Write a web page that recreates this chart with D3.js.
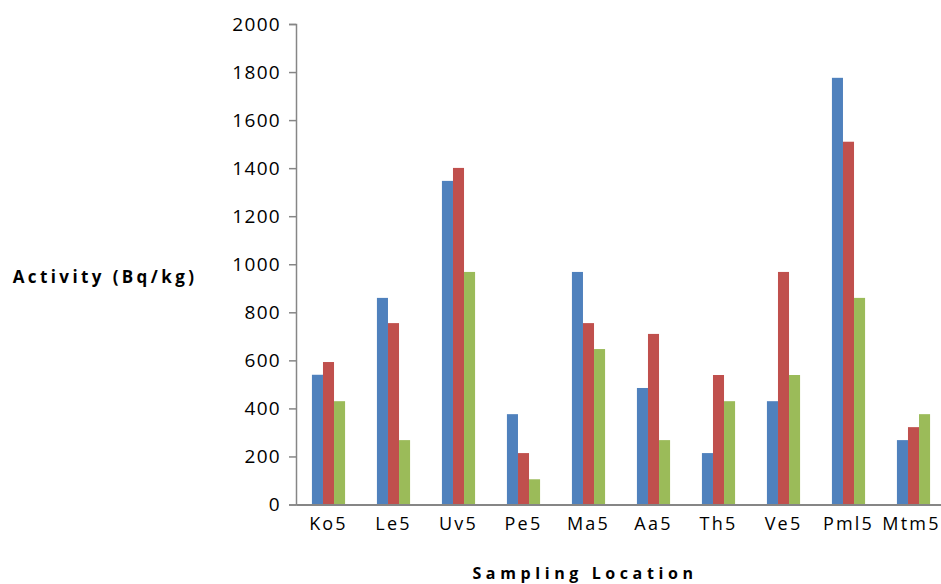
<!DOCTYPE html>
<html>
<head>
<meta charset="utf-8">
<script src="https://cdn.jsdelivr.net/npm/d3@7"></script>
<style>
  body { margin: 0; background: #fff; }
  text { font-family: "Open Sans", "Liberation Sans", sans-serif; fill: #000; }
</style>
</head>
<body>
<svg id="chart" width="941" height="584"></svg>
<script>
// Sampling locations and activity values (Bq/kg) for three series
const locations = ["Ko5", "Le5", "Uv5", "Pe5", "Ma5", "Aa5", "Th5", "Ve5", "Pml5", "Mtm5"];
const seriesA = [540, 860, 1347, 376, 968, 485, 214, 430, 1776, 268];
const seriesB = [593, 755, 1401, 214, 755, 710, 539, 968, 1510, 322];
const seriesC = [430, 268, 968, 105, 647, 268, 430, 539, 860, 376];
const seriesColors = ["#4F81BD", "#C0504D", "#9BBB59"];
const yTicks = [0, 200, 400, 600, 800, 1000, 1200, 1400, 1600, 1800, 2000];

const svg = d3.select("#chart");
const plotLeft = 296, plotRight = 946, plotTop = 24, plotBottom = 504.5;

const x = d3.scaleBand().domain(locations).range([plotLeft, plotRight]).paddingInner(0.49).paddingOuter(0.245);
const sub = d3.scaleBand().domain([0, 1, 2]).range([0, x.bandwidth()]);
const y = d3.scaleLinear().domain([0, 2000]).range([plotBottom, plotTop]);

const rows = locations.map((loc, i) => ({ loc, vals: [seriesA[i], seriesB[i], seriesC[i]] }));

// Bars
const groups = svg.append("g").selectAll("g").data(rows).join("g")
  .attr("transform", d => `translate(${x(d.loc)},0)`);
groups.selectAll("rect").data(d => d.vals.map((v, k) => ({ v, k })))
  .join("rect")
  .attr("x", d => sub(d.k))
  .attr("width", sub.bandwidth())
  .attr("y", d => y(d.v))
  .attr("height", d => y(0) - y(d.v))
  .attr("fill", d => seriesColors[d.k]);

// Y axis
const yAxis = svg.append("g").attr("transform", `translate(${plotLeft},0)`)
  .call(d3.axisLeft(y).tickValues(yTicks).tickSize(7).tickPadding(8).tickFormat(d3.format("d")));
yAxis.select(".domain").attr("stroke", "#868686").attr("stroke-width", 1.5);
yAxis.selectAll(".tick line").attr("stroke", "#868686").attr("stroke-width", 1.5);
yAxis.selectAll("text").style("font-size", "19px").style("letter-spacing", "1.3px");

// X axis
const xAxis = svg.append("g").attr("transform", `translate(0,${plotBottom})`)
  .call(d3.axisBottom(x).tickSize(0).tickPadding(13));
xAxis.select(".domain").attr("stroke", "#868686").attr("stroke-width", 2);
xAxis.selectAll("text").style("font-size", "18px").style("letter-spacing", "2.2px");
// keep the last label inside the right edge
xAxis.selectAll(".tick").filter(d => d === locations[locations.length - 1])
  .select("text").attr("dx", "-2px");

// Axis titles
svg.append("text").attr("x", 105).attr("y", 283).attr("text-anchor", "middle")
  .style("font-size", "17px").style("font-weight", "bold").style("letter-spacing", "3.4px")
  .text("Activity (Bq/kg)");
svg.append("text").attr("x", 585).attr("y", 579).attr("text-anchor", "middle")
  .style("font-size", "16px").style("font-weight", "bold").style("letter-spacing", "4.6px")
  .text("Sampling Location");
</script>
</body>
</html>
